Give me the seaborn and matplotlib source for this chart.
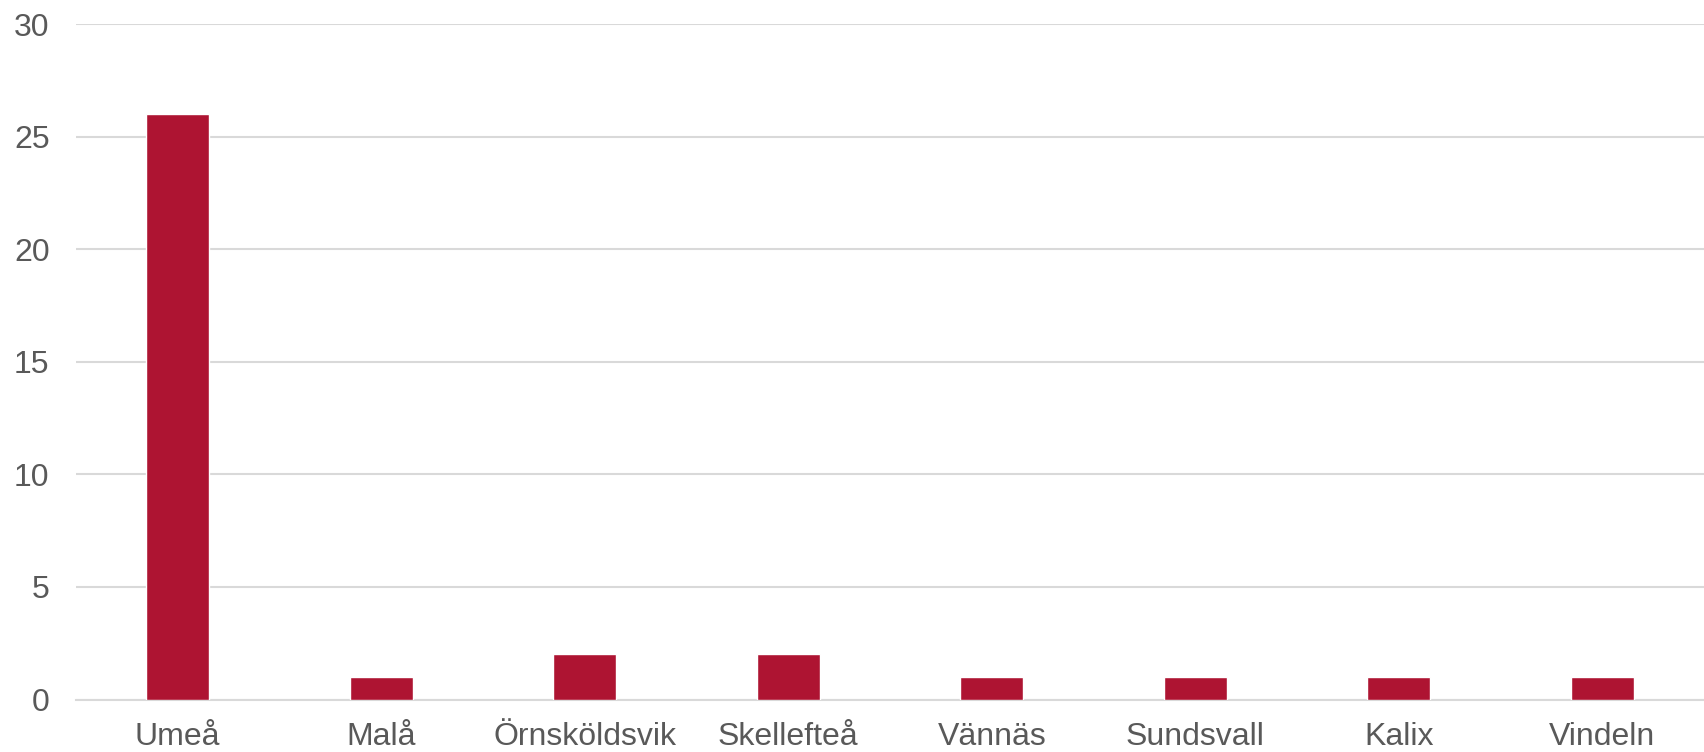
import matplotlib
matplotlib.use("Agg")
import matplotlib.pyplot as plt
import seaborn as sns
import pandas as pd

# data
cities = ['Umeå', 'Malå', 'Örnsköldsvik', 'Skellefteå', 'Vännäs', 'Sundsvall', 'Kalix', 'Vindeln']
counts = [26, 1, 2, 2, 1, 1, 1, 1]
yticks = [0, 5, 10, 15, 20, 25, 30]

df = pd.DataFrame({'city': cities, 'count': counts})

sns.set_style('white')
plt.rcParams['font.family'] = ['Liberation Sans', 'DejaVu Sans']

fig = plt.figure(figsize=(17.04, 7.52), dpi=100)
ax = fig.add_axes([0.0446, 0.0698, 0.9554, 0.898])

sns.barplot(data=df, x='city', y='count', color='#AE1432', width=0.31,
            saturation=1, ax=ax, zorder=3)

ax.set_ylim(0, 30)
ax.set_xlim(-0.5, len(cities) - 0.5)
ax.set_yticks(yticks)
ax.set_xlabel('')
ax.set_ylabel('')
ax.yaxis.grid(True, color='#d9d9d9', linewidth=1.5, zorder=0)
ax.set_axisbelow(True)
sns.despine(ax=ax, left=True, right=True, top=True)
ax.spines['bottom'].set_color('#d9d9d9')
ax.spines['bottom'].set_linewidth(1.5)
ax.tick_params(axis='both', length=0, labelsize=23, labelcolor='#595959')
ax.tick_params(axis='y', pad=19)
ax.tick_params(axis='x', pad=16)

fig.savefig('out.png', dpi=100)
